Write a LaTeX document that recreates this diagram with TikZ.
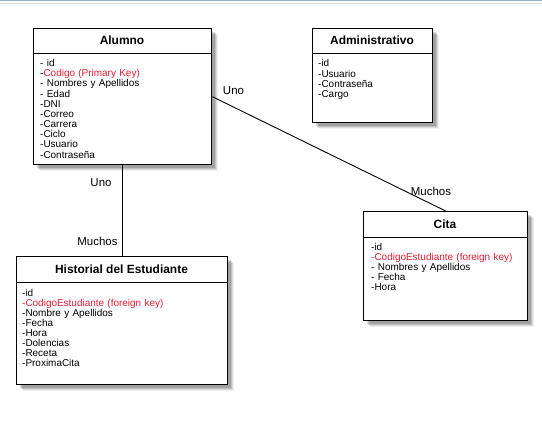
\documentclass[tikz,border=0pt]{standalone}
\usepackage{fontspec}
\setmainfont{Liberation Sans}
\usetikzlibrary{shadows}
\definecolor{keyred}{RGB}{226,30,52}
\definecolor{stripblue}{RGB}{150,172,205}
\definecolor{stripgray}{RGB}{222,222,222}
\tikzset{
  umlbox/.style={draw=black, line width=1.3bp, fill=white, anchor=north west, inner sep=0,
    general shadow={fill=black, opacity=.06, shadow xshift=6bp, shadow yshift=-6bp},
    general shadow={fill=black, opacity=.09, shadow xshift=5bp, shadow yshift=-5bp},
    general shadow={fill=black, opacity=.12, shadow xshift=4bp, shadow yshift=-4bp},
    general shadow={fill=black, opacity=.15, shadow xshift=3bp, shadow yshift=-3bp}},
  divider/.style={draw=black, line width=1bp},
  umltitle/.style={font=\fontsize{12}{14}\selectfont\bfseries, inner sep=0},
  umlbody/.style={anchor=base west, inner sep=0, text width=200bp, align=left},
  conn/.style={draw=black, line width=0.9bp},
  mult/.style={font=\fontsize{11.5}{13}\selectfont, inner sep=0}
}
\begin{document}
\begin{tikzpicture}[x=1bp,y=-1bp]
\useasboundingbox (0,0) rectangle (542,428);
\fill[white] (0,0) rectangle (542,428);
\draw[stripblue, line width=1.2bp] (0,0.8) -- (542,0.8);
\draw[stripgray, line width=1bp] (0,3.5) -- (542,3.5);

% boxes
\node[umlbox, minimum width=178bp, minimum height=136bp] (alumno) at (33,28) {};
\node[umlbox, minimum width=120bp, minimum height=94bp] (admin) at (312,28) {};
\node[umlbox, minimum width=211bp, minimum height=128bp] (hist) at (16,256) {};
\node[umlbox, minimum width=164bp, minimum height=109bp] (cita) at (363,211) {};

% connectors
\draw[conn] (alumno.south) -- (alumno.south |- hist.north);
\draw[conn] (alumno.east) -- (cita.north);

% dividers
\draw[divider] (alumno.west |- 0,53) -- (alumno.east |- 0,53);
\draw[divider] (admin.west |- 0,53) -- (admin.east |- 0,53);
\draw[divider] (hist.west |- 0,282) -- (hist.east |- 0,282);
\draw[divider] (cita.west |- 0,237) -- (cita.east |- 0,237);

% titles
\node[umltitle] (alumnoT) at (122,40.5) {Alumno};
\node[umltitle] (adminT) at (372,40.5) {Administrativo};
\node[umltitle] (histT) at (121.5,269) {Historial del Estudiante};
\node[umltitle] (citaT) at (445,224) {Cita};

% bodies
\node[umlbody, font=\fontsize{10}{10.2}\selectfont] (alumnoB) at (40,66.6) {%
- id\\
-{\color{keyred}Codigo (Primary Key)}\\
- Nombres y Apellidos\\
- Edad\\
-DNI\\
-Correo\\
-Carrera\\
-Ciclo\\
-Usuario\\
-Contraseña};
\node[umlbody, font=\fontsize{10}{10.5}\selectfont] (adminB) at (318,66.6) {%
-id\\
-Usuario\\
-Contraseña\\
-Cargo};
\node[umlbody, font=\fontsize{10}{10}\selectfont] (histB) at (22,296.6) {%
-id\\
{\color{keyred}-CodigoEstudiante (foreign key)}\\
-Nombre y Apellidos\\
-Fecha\\
-Hora\\
-Dolencias\\
-Receta\\
-ProximaCita};
\node[umlbody, font=\fontsize{10}{10}\selectfont] (citaB) at (371,250.6) {%
-id\\
{\color{keyred}-CodigoEstudiante (foreign key)}\\
- Nombres y Apellidos\\
- Fecha\\
-Hora};

% multiplicities
\node[mult] (uno1) at (233.5,91) {Uno};
\node[mult] (muchos1) at (431,191) {Muchos};
\node[mult] (uno2) at (101,183) {Uno};
\node[mult] (muchos2) at (97.5,241.5) {Muchos};
\end{tikzpicture}
\end{document}
